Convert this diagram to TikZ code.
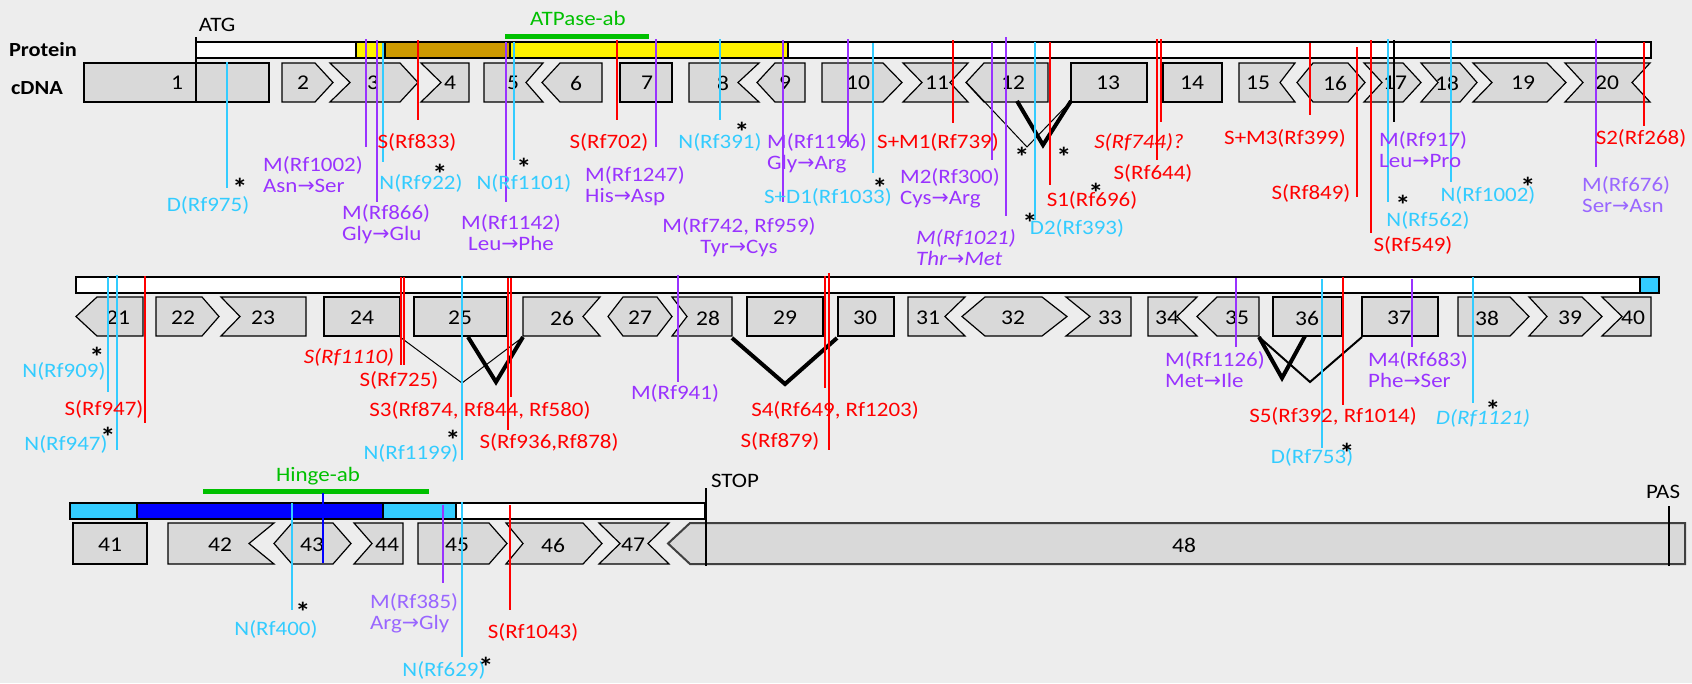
\documentclass[tikz,border=0pt]{standalone}
\usepackage{fontspec}
\setmainfont{Carlito}[FakeStretch=1.12]
\newfontfamily\arw{DejaVu Sans}
\newcommand{\toarr}{{\arw →}}
\definecolor{mutred}{RGB}{255,0,0}
\definecolor{mutcyan}{RGB}{51,204,255}
\definecolor{mutpurple}{RGB}{153,51,255}
\definecolor{lpurple}{RGB}{153,102,255}
\definecolor{abgreen}{RGB}{0,192,0}
\definecolor{exgray}{RGB}{217,217,217}
\definecolor{bgcol}{RGB}{237,237,237}
\definecolor{atpbrown}{RGB}{204,153,0}
\definecolor{hingeblue}{RGB}{0,0,255}

\begin{document}
\begin{tikzpicture}[x=1pt, y=-1pt,
    exon/.style={draw=black, fill=exgray, line width=1.2pt},
    exnum/.style={font=\fontsize{21}{22}\selectfont, inner sep=0pt},
    lbl/.style={font=\fontsize{20.5}{21}\selectfont, inner sep=0pt},
    ast/.style={font=\fontsize{27}{27}\selectfont\bfseries, inner sep=0pt},
    mut/.style={line width=2pt},
    bar/.style={draw=black, line width=2pt},
    splthin/.style={line width=1pt},
    splthick/.style={line width=4pt},
    abline/.style={abgreen, line width=5pt}
  ]
  \fill[bgcol] (0,0) rectangle (1692,683);
  \useasboundingbox (0,0) rectangle (1692,683);

  % exons, row 1 (top 63, bottom 102)
  \foreach \a/\b/\c/\d/\lx/\n in {84/84/269/269/177/1, 282/282/315/333/303/2, 330/350/400/418/373/3,
      421/441/469/469/450/4, 484/484/543/526/513/5, 560/542/602/602/576/6, 620/620/672/672/647/7,
      689/689/759/738/723/8, 775/757/805/805/785/9, 822/822/883/902/858/10, 903/922/968/950/937/11,
      984/966/1048/1048/1013/12, 1071/1071/1147/1147/1108/13, 1163/1163/1222/1222/1192/14,
      1239/1239/1295/1280/1258/15, 1313/1297/1348/1365/1335/16, 1364/1382/1403/1421/1395/17,
      1421/1438/1460/1477/1447/18, 1473/1492/1547/1566/1523/19, 1565/1583/1650/1632/1607/20} {
    \draw[exon] (\a,63) -- (\c,63) -- (\d,82.5) -- (\c,102) -- (\a,102) -- (\b,82.5) -- cycle;
    \node[exnum] (e\n) at (\lx,83) {\n};
  }
  % exons, row 2 (top 297, bottom 336)
  \foreach \a/\b/\c/\d/\lx/\n in {97/76/143/143/118/21, 156/156/202/219/183/22, 221/240/306/306/263/23,
      324/324/400/400/362/24, 414/414/507/507/460/25, 523/523/600/583/562/26, 623/608/657/672/640/27,
      672/687/732/732/708/28, 747/747/823/823/785/29, 838/838/894/894/865/30, 908/908/965/945/928/31,
      985/962/1042/1067/1013/32, 1066/1090/1131/1131/1110/33, 1148/1148/1197/1177/1167/34,
      1217/1197/1259/1259/1237/35, 1273/1273/1342/1342/1307/36, 1362/1362/1438/1438/1399/37,
      1458/1458/1510/1529/1487/38, 1529/1547/1582/1602/1570/39, 1602/1622/1651/1651/1633/40} {
    \draw[exon] (\a,297) -- (\c,297) -- (\d,316.5) -- (\c,336) -- (\a,336) -- (\b,316.5) -- cycle;
    \node[exnum] (e\n) at (\lx,318) {\n};
  }
  % exons, row 3 (top 523, bottom 564)
  \foreach \a/\b/\c/\d/\lx/\n in {73/73/147/147/110/41, 168/168/274/249/220/42, 292/274/333/351/312/43,
      354/372/403/403/387/44, 418/418/489/507/457/45, 506/523/583/602/553/46, 599/620/669/648/633/47} {
    \draw[exon] (\a,523) -- (\c,523) -- (\d,543.5) -- (\c,564) -- (\a,564) -- (\b,543.5) -- cycle;
    \node[exnum] (e\n) at (\lx,545) {\n};
  }
  \draw[exon, draw=black!75, line width=2pt] (690,523) -- (1685,523) -- (1685,564) -- (690,564) -- (668,543.5) -- cycle;
  \node[exnum] (e48) at (1184,545) {48};

  % protein bars
  \draw[bar, fill=white] (196,42) rectangle (1651,58);
  \draw[bar, fill=yellow] (356,42) rectangle (385,58);
  \draw[bar, fill=atpbrown] (385,42) rectangle (510,58);
  \draw[bar, fill=yellow] (510,42) rectangle (788,58);
  \draw[bar, fill=white] (76,277) rectangle (1659,293);
  \draw[bar, fill=mutcyan] (1640,277) rectangle (1659,293);
  \draw[bar, fill=white] (70,503) rectangle (705,519);
  \draw[bar, fill=mutcyan] (70,503) rectangle (137,519);
  \draw[bar, fill=hingeblue] (137,503) rectangle (383,519);
  \draw[bar, fill=mutcyan] (383,503) rectangle (456,519);

  % antibodies
  \draw[abline] (505,36) -- (649,36);
  \node[lbl, text=abgreen] (atpab) at (578,18) {ATPase-ab};
  \draw[abline] (203,491) -- (429,491);
  \node[lbl, text=abgreen] (hingeab) at (318,476) {Hinge-ab};

  % splicing
  \draw[splthin] (966,82) -- (1027,147) -- (1071,101);
  \draw[splthick] (1017,101) -- (1043,145) -- (1071,101);
  \draw[splthin] (400,337) -- (462,383) -- (523,337);
  \draw[splthick] (468,337) -- (496,382) -- (523,337);
  \draw[splthick] (732,338) -- (785,384) -- (837,338);
  \draw[splthick] (1259,337) -- (1282,378) -- (1305,336);
  \draw[splthin, line width=2pt] (1259,337) -- (1310,382) -- (1362,337);

  % landmarks
  \draw[line width=2pt] (196,37) -- (196,103);
  \node[lbl] (atg) at (217,25) {ATG};
  \draw[line width=2pt] (706,488) -- (706,566);
  \node[lbl] (stop) at (735,481) {STOP};
  \draw[line width=2pt] (1669,506) -- (1669,566);
  \node[lbl] (pas) at (1663,492) {PAS};
  \node[lbl, font=\fontsize{20}{21}\selectfont\bfseries] (prot) at (43,50) {Protein};
  \node[lbl, font=\fontsize{20}{21}\selectfont\bfseries] (cdna) at (37,88) {cDNA};

  % mutation lines
  \foreach \x/\ya/\yb/\c in {227/62/188/mutcyan, 366/39/147/mutpurple, 377/40/202/mutpurple,
      383/43/162/mutcyan, 418/40/120/mutred, 506/42/202/mutpurple, 514/42/160/mutcyan,
      617/40/120/mutred, 656/39/147/mutpurple, 720/39/120/mutcyan, 783/40/202/mutpurple,
      848/39/147/mutpurple, 873/43/173/mutcyan, 953/40/123/mutred, 992/42/160/mutpurple,
      1006/37/216/mutpurple, 1035/42/220/mutcyan, 1050/42/185/mutred, 1157/39/160/mutred,
      1161/39/122/mutred, 1310/43/115/mutred, 1357/47/197/mutred, 1371/40/233/mutred,
      1388/39/202/mutcyan, 1394/40/122/black, 1451/40/182/mutcyan, 1596/39/167/mutpurple,
      1644/42/126/mutred,
      108/277/392/mutcyan, 117/275/450/mutcyan, 145/276/423/mutred, 401/277/365/mutred,
      404/277/365/mutred, 462/276/460/mutcyan, 508/278/430/mutred, 511/278/397/mutred,
      678/275/382/mutpurple, 825/276/388/mutred, 829/273/450/mutred, 1236/278/347/mutpurple,
      1322/279/448/mutcyan, 1343/277/405/mutred, 1412/279/347/mutpurple, 1473/277/403/mutcyan,
      292/503/610/mutcyan, 323/493/563/hingeblue, 443/505/583/mutpurple, 462/502/657/mutcyan,
      510/505/610/mutred} {
    \draw[mut, \c] (\x,\ya) -- (\x,\yb);
  }

  % one-line labels
  \foreach \x/\y/\c/\t [count=\i] in {208/205/mutcyan/{D(Rf975)}, 421/183/mutcyan/{N(Rf922)},
      417/142/mutred/{S(Rf833)}, 524/183/mutcyan/{N(Rf1101)}, 609/142/mutred/{S(Rf702)},
      720/142/mutcyan/{N(Rf391)}, 828/197/mutcyan/{S+D1(Rf1033)}, 938/142/mutred/{S+M1(Rf739)},
      1077/228/mutcyan/{D2(Rf393)}, 1092/200/mutred/{S1(Rf696)}, 1139/142/mutred/{\itshape S(Rf744)?},
      1153/173/mutred/{S(Rf644)}, 1285/138/mutred/{S+M3(Rf399)}, 1311/193/mutred/{S(Rf849)},
      1413/245/mutred/{S(Rf549)}, 1428/220/mutcyan/{N(Rf562)}, 1488/195/mutcyan/{N(Rf1002)},
      1641/138/mutred/{S2(Rf268)},
      64/371/mutcyan/{N(Rf909)}, 66/444/mutcyan/{N(Rf947)}, 104/409/mutred/{S(Rf947)},
      349/357/mutred/{\itshape S(Rf1110)}, 399/380/mutred/{S(Rf725)}, 411/453/mutcyan/{N(Rf1199)},
      480/410/mutred/{S3(Rf874, Rf844, Rf580)}, 549/442/mutred/{S(Rf936,Rf878)},
      675/393/mutpurple/{M(Rf941)}, 835/410/mutred/{S4(Rf649, Rf1203)}, 780/441/mutred/{S(Rf879)},
      1312/457/mutcyan/{D(Rf753)}, 1333/416/mutred/{S5(Rf392, Rf1014)},
      1483/418/mutcyan/{\itshape D(Rf1121)},
      276/629/mutcyan/{N(Rf400)}, 444/670/mutcyan/{N(Rf629)}, 533/632/mutred/{S(Rf1043)}} {
    \node[lbl, text=\c] (lab\i) at (\x,\y) {\t};
  }

  % two-line labels
  \node[lbl, text=mutpurple, align=left, anchor=west] (m1002) at (263,174.5) {M(Rf1002)\\Asn\toarr Ser};
  \node[lbl, text=mutpurple, align=left, anchor=west] (m866) at (342,224) {M(Rf866)\\Gly\toarr Glu};
  \node[lbl, text=mutpurple, align=center] (m1142) at (511,233) {M(Rf1142)\\Leu\toarr Phe};
  \node[lbl, text=mutpurple, align=left, anchor=west] (m1247) at (585,186.5) {M(Rf1247)\\His\toarr Asp};
  \node[lbl, text=mutpurple, align=center] (m742) at (739,237) {M(Rf742, Rf959)\\Tyr\toarr Cys};
  \node[lbl, text=mutpurple, align=left, anchor=west] (m1196) at (767,153) {M(Rf1196)\\Gly\toarr Arg};
  \node[lbl, text=mutpurple, align=left, anchor=west] (m300) at (900,188.5) {M2(Rf300)\\Cys\toarr Arg};
  \node[lbl, text=mutpurple, align=left, anchor=west, font=\fontsize{20.5}{21}\selectfont\itshape] (m1021) at (916,247.5) {M(Rf1021)\\Thr\toarr Met};
  \node[lbl, text=mutpurple, align=left, anchor=west] (m917) at (1379,149.5) {M(Rf917)\\Leu\toarr Pro};
  \node[lbl, text=lpurple, align=left, anchor=west] (m676) at (1582,194.5) {M(Rf676)\\Ser\toarr Asn};
  \node[lbl, text=mutpurple, align=left, anchor=west] (m1126) at (1165,370) {M(Rf1126)\\Met\toarr Ile};
  \node[lbl, text=mutpurple, align=left, anchor=west] (m683) at (1368,370) {M4(Rf683)\\Phe\toarr Ser};
  \node[lbl, text=lpurple, align=left, anchor=west] (m385) at (370,613.5) {M(Rf385)\\Arg\toarr Gly};

  % asterisks
  \foreach \x/\y [count=\i] in {240/183, 440/169, 524/163, 742/127, 880/183, 1022/152, 1064/152,
      1030/218, 1096/188, 1403/200, 1528/182, 97/352, 108/432, 453/435, 1347/448, 1493/405,
      303/607, 486/662} {
    \node[ast] (ast\i) at (\x,\y+5) {*};
  }
\end{tikzpicture}
\end{document}
